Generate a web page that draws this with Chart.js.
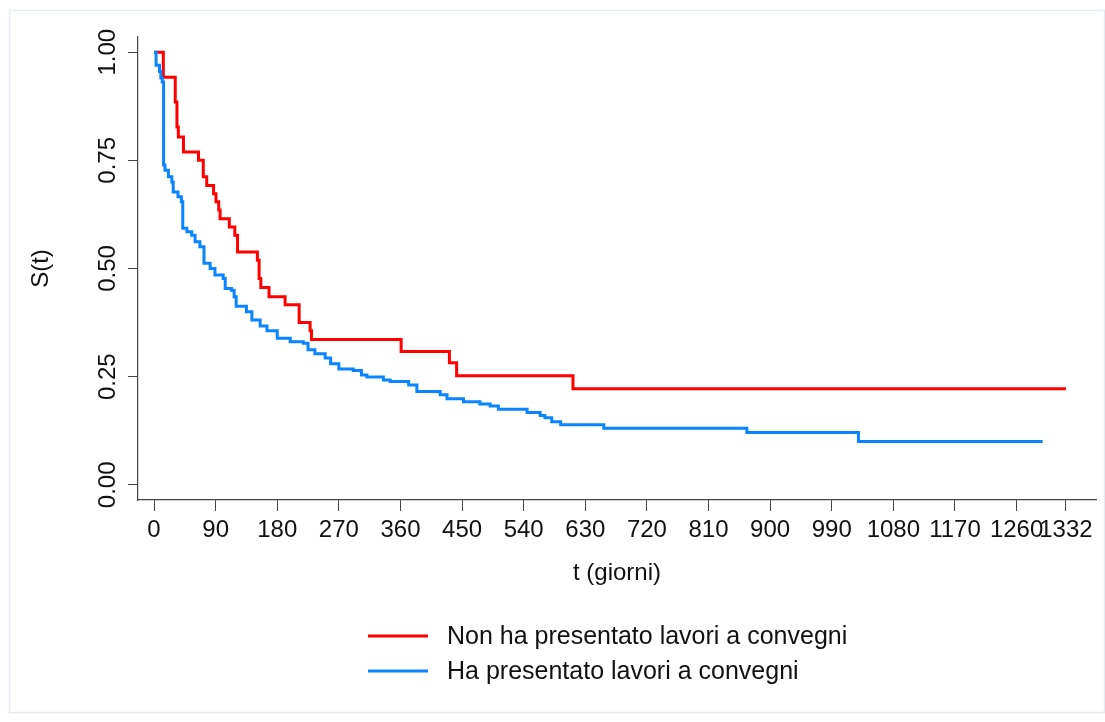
<!doctype html>
<html>
<head>
<meta charset="utf-8">
<title>S(t) per presentazione lavori</title>
<script src="https://cdn.jsdelivr.net/npm/chart.js@4.4.0/dist/chart.umd.min.js"></script>
<style>
  html, body { margin: 0; padding: 0; background: #fff; }
  #wrap { width: 1105px; height: 722px; }
</style>
</head>
<body>
<div id="wrap"><canvas id="km" width="1105" height="722"></canvas></div>
<script>
// tick positions
const xTicks = [0, 90, 180, 270, 360, 450, 540, 630, 720, 810, 900, 990, 1080, 1170, 1260, 1332];
const yTicks = [0, 0.25, 0.5, 0.75, 1];

// Non ha presentato lavori a convegni: event days and S(t) after each step
const nonDays = [0, 13.6, 31, 33.5, 35.5, 43, 65, 72, 77, 87, 90.5, 94.5, 96.5, 110, 118,
  122, 151, 153.5, 156, 168, 191.5, 212, 228, 230, 361, 431.5, 442, 612, 1332];
const nonSurv = [1, 0.942, 0.885, 0.827, 0.804, 0.769, 0.75, 0.712, 0.692, 0.673, 0.654, 0.635, 0.615, 0.596, 0.577,
  0.538, 0.519, 0.477, 0.456, 0.435, 0.416, 0.375, 0.356, 0.336, 0.308, 0.282, 0.252, 0.222, 0.222];

// Ha presentato lavori a convegni
const haDays = [0, 3, 8, 10, 12, 14, 16, 21, 26, 28, 35, 40, 42, 48, 55, 60, 67, 73, 82, 89,
  101, 104, 113, 117, 120, 135, 143, 155, 165, 180, 199, 218, 225, 235, 250, 258, 270, 291, 303, 311,
  335, 345, 372, 384, 418, 428, 452, 476, 491, 503, 545, 564, 571, 581, 594, 657, 866, 1029, 1298];
const haSurv = [1, 0.97, 0.955, 0.94, 0.931, 0.739, 0.727, 0.712, 0.70, 0.677, 0.666, 0.654, 0.593, 0.585, 0.577, 0.562, 0.55, 0.512, 0.5, 0.485,
  0.477, 0.454, 0.45, 0.435, 0.413, 0.40, 0.381, 0.367, 0.356, 0.339, 0.331, 0.327, 0.312, 0.303, 0.293, 0.28, 0.268, 0.264, 0.254, 0.249,
  0.2425, 0.2386, 0.231, 0.2155, 0.208, 0.199, 0.192, 0.187, 0.182, 0.175, 0.167, 0.16, 0.155, 0.146, 0.139, 0.131, 0.121, 0.1, 0.1];

const FONT = '"Liberation Sans", Arial, sans-serif';
const RED = '#ff0000';
const BLUE = '#0a84ff';

function toPoints(days, surv) {
  return days.map((d, i) => ({ x: d, y: surv[i] }));
}

// light frame round the whole figure
const framePlugin = {
  id: 'frame',
  beforeDraw(chart) {
    const c = chart.ctx;
    c.save();
    c.fillStyle = '#fff';
    c.fillRect(0, 0, chart.width, chart.height);
    c.strokeStyle = '#e4ecf1';
    c.lineWidth = 1.5;
    c.strokeRect(9.5, 10.5, 1095, 702);
    c.restore();
  }
};

// two-row key below the axis title
const keyPlugin = {
  id: 'key',
  afterDraw(chart) {
    const c = chart.ctx;
    const rows = [636, 671];
    c.save();
    chart.data.datasets.forEach((ds, i) => {
      const y = rows[i];
      c.strokeStyle = ds.borderColor;
      c.lineWidth = 3;
      c.beginPath();
      c.moveTo(368, y);
      c.lineTo(428, y);
      c.stroke();
      c.fillStyle = '#111';
      c.font = '25px ' + FONT;
      c.textBaseline = 'middle';
      c.textAlign = 'left';
      c.fillText(ds.label, 447, y + 1);
    });
    c.restore();
  }
};

new Chart(document.getElementById('km'), {
  type: 'line',
  data: {
    datasets: [
      {
        label: 'Non ha presentato lavori a convegni',
        data: toPoints(nonDays, nonSurv),
        borderColor: RED,
        borderWidth: 3,
        stepped: true,
        pointRadius: 0,
        order: 2
      },
      {
        label: 'Ha presentato lavori a convegni',
        data: toPoints(haDays, haSurv),
        borderColor: BLUE,
        borderWidth: 3,
        stepped: true,
        pointRadius: 0,
        order: 1
      }
    ]
  },
  options: {
    responsive: false,
    devicePixelRatio: 1,
    animation: false,
    layout: { padding: { left: 10, top: 37, right: 9, bottom: 132 } },
    plugins: {
      legend: { display: false },
      tooltip: { enabled: false }
    },
    scales: {
      x: {
        type: 'linear',
        min: -23.4,
        max: 1376,
        afterBuildTicks: s => { s.ticks = xTicks.map(v => ({ value: v })); },
        afterFit: s => { s.height = 90; },
        ticks: {
          autoSkip: false,
          maxRotation: 0,
          minRotation: 0,
          padding: 5,
          color: '#111',
          font: { family: FONT, size: 24 },
          callback: v => String(v)
        },
        grid: { drawOnChartArea: false, drawTicks: true, tickLength: 11, color: '#444' },
        border: { display: true, color: '#444', width: 1.2 },
        title: {
          display: true,
          text: 't (giorni)',
          color: '#111',
          font: { family: FONT, size: 24 },
          padding: { top: 0, bottom: 2 }
        }
      },
      y: {
        type: 'linear',
        min: -0.035,
        max: 1.035,
        afterBuildTicks: s => { s.ticks = yTicks.map(v => ({ value: v })); },
        afterFit: s => { s.width = 128; },
        ticks: {
          minRotation: 90,
          maxRotation: 90,
          crossAlign: 'center',
          padding: -4,
          color: '#111',
          font: { family: FONT, size: 24 },
          callback: v => v.toFixed(2)
        },
        grid: { drawOnChartArea: false, drawTicks: true, tickLength: 10, color: '#444' },
        border: { display: true, color: '#444', width: 1.2 },
        title: {
          display: true,
          text: 'S(t)',
          color: '#111',
          font: { family: FONT, size: 24 },
          padding: { top: 17, bottom: 0 }
        }
      }
    }
  },
  plugins: [framePlugin, keyPlugin]
});
</script>
</body>
</html>
